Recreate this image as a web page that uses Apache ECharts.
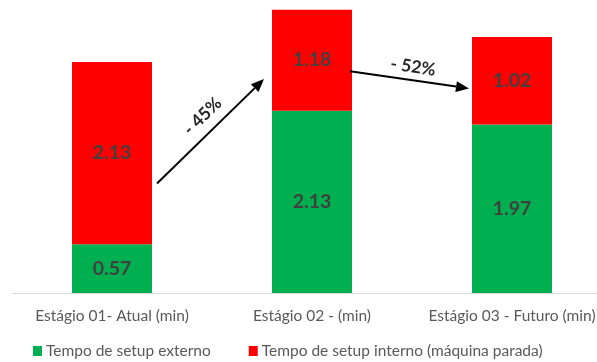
<!DOCTYPE html>
<html>
<head>
<meta charset="utf-8">
<script src="https://cdn.jsdelivr.net/npm/echarts@6/dist/echarts.min.js"></script>
<style>
  html, body { margin: 0; padding: 0; background: #fff; }
  #chart { width: 597px; height: 362px; }
</style>
</head>
<body>
<div id="chart"></div>
<script>
// Setup time per stage (minutes)
const categories = ['Estágio 01- Atual (min)', 'Estágio 02 - (min)', 'Estágio 03 - Futuro (min)'];
const externalSetup = [0.57, 2.13, 1.97];
const internalSetup = [2.13, 1.18, 1.02];
const seriesNames = ['Tempo de setup externo', 'Tempo de setup interno (máquina parada)'];
const reductionLabels = ['- 45%', '- 52%'];

const FONT = 'Lato, "Noto Sans", sans-serif';
const labelStyle = {
  show: true,
  position: 'inside',
  color: '#404040',
  fontSize: 19.5,
  fontWeight: 'bold',
  fontFamily: FONT
};

const chart = echarts.init(document.getElementById('chart'), null, { renderer: 'canvas' });

chart.setOption({
  animation: false,
  backgroundColor: '#ffffff',
  grid: { left: 12, width: 600, top: 2, bottom: 69, containLabel: false, outerBoundsMode: 'none' },
  legend: {
    left: 28,
    bottom: -2,
    itemWidth: 9,
    itemHeight: 10,
    itemGap: 38,
    icon: 'rect',
    textStyle: { color: '#595959', fontSize: 15.5, fontFamily: FONT, padding: [0, 0, 0, -1] },
    data: seriesNames
  },
  xAxis: {
    type: 'category',
    data: categories,
    axisLine: { show: true, lineStyle: { color: '#d9d9d9', width: 1 } },
    axisTick: { show: false },
    axisLabel: { color: '#595959', fontSize: 15.5, fontFamily: FONT, margin: 15, interval: 0, hideOverlap: false }
  },
  yAxis: {
    type: 'value',
    min: 0,
    max: 3.4,
    show: false,
    splitLine: { show: false }
  },
  series: [
    {
      name: seriesNames[0],
      type: 'bar',
      stack: 'setup',
      barWidth: 80,
      itemStyle: { color: '#00B050' },
      label: Object.assign({ formatter: p => p.value.toFixed(2) }, labelStyle),
      data: externalSetup
    },
    {
      name: seriesNames[1],
      type: 'bar',
      stack: 'setup',
      barWidth: 80,
      itemStyle: { color: '#FF0000' },
      label: Object.assign({ formatter: p => p.value.toFixed(2) }, labelStyle),
      data: internalSetup
    }
  ]
});

// Reduction arrows between stages, anchored to the bar positions
function arrow(x1, y1, x2, y2) {
  const ang = Math.atan2(y2 - y1, x2 - x1);
  const head = 13, half = 5.5;
  const bx = x2 - head * Math.cos(ang), by = y2 - head * Math.sin(ang);
  const nx = -Math.sin(ang) * half, ny = Math.cos(ang) * half;
  return [
    { type: 'line', shape: { x1, y1, x2: bx, y2: by }, style: { stroke: '#000', lineWidth: 2 }, z: 10 },
    { type: 'polygon', shape: { points: [[x2, y2], [bx + nx, by + ny], [bx - nx, by - ny]] }, style: { fill: '#000' }, z: 10 }
  ];
}

const halfBar = 40;
const p1 = chart.convertToPixel({ gridIndex: 0 }, [0, 1.28]);
const p2 = chart.convertToPixel({ gridIndex: 0 }, [1, 2.5]);
const p3 = chart.convertToPixel({ gridIndex: 0 }, [1, 2.59]);
const p4 = chart.convertToPixel({ gridIndex: 0 }, [2, 2.39]);

const a1 = { x1: p1[0] + halfBar + 5, y1: p1[1], x2: p2[0] - halfBar - 8, y2: p2[1] };
const a2 = { x1: p3[0] + halfBar - 2, y1: p3[1], x2: p4[0] - halfBar - 3, y2: p4[1] };

const textStyle = { fill: '#262626', font: 'bold 17.5px ' + FONT, textAlign: 'center', textVerticalAlign: 'middle' };

chart.setOption({
  graphic: [
    ...arrow(a1.x1, a1.y1, a1.x2, a1.y2),
    ...arrow(a2.x1, a2.y1, a2.x2, a2.y2),
    {
      type: 'text',
      x: (a1.x1 + a1.x2) / 2 - 8,
      y: (a1.y1 + a1.y2) / 2 - 15,
      rotation: -Math.atan2(a1.y2 - a1.y1, a1.x2 - a1.x1),
      style: Object.assign({ text: reductionLabels[0] }, textStyle),
      z: 10
    },
    {
      type: 'text',
      x: (a2.x1 + a2.x2) / 2 + 3.5,
      y: (a2.y1 + a2.y2) / 2 - 13,
      rotation: -Math.atan2(a2.y2 - a2.y1, a2.x2 - a2.x1),
      style: Object.assign({ text: reductionLabels[1] }, textStyle),
      z: 10
    }
  ]
});
</script>
</body>
</html>
